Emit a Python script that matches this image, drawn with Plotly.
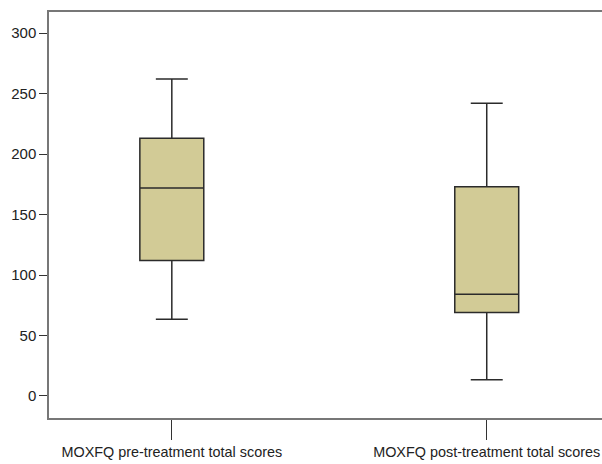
import plotly.graph_objects as go

categories = ["MOXFQ pre-treatment total scores", "MOXFQ post-treatment total scores"]
lower_whisker = [63.5, 13.5]
q1_values = [112, 69]
medians = [172, 84]
q3_values = [213, 173]
upper_whisker = [262, 242]
y_ticks = [0, 50, 100, 150, 200, 250, 300]

fig = go.Figure()
for i, cat in enumerate(categories):
    fig.add_trace(go.Box(
        x=[i], q1=[q1_values[i]], median=[medians[i]], q3=[q3_values[i]],
        lowerfence=[lower_whisker[i]], upperfence=[upper_whisker[i]],
        name=cat, width=0.203, whiskerwidth=0.5,
        fillcolor="#D2CB96", line=dict(color="#2b2b2b", width=1.5),
        boxpoints=False, showlegend=False, hoverinfo="skip",
    ))

fig.update_layout(
    width=602, height=464,
    margin=dict(l=49, r=0, t=12, b=46, autoexpand=False),
    paper_bgcolor="white", plot_bgcolor="white",
    font=dict(family="Liberation Sans, Arial, sans-serif", size=15, color="#222"),
    xaxis=dict(
        range=[-0.39, 1.366], tickvals=[0, 1], ticktext=categories,
        showgrid=False, zeroline=False, showline=True, mirror=True,
        linecolor="#777", linewidth=1.5, automargin=False,
        ticklabeloverflow="allow",
        ticks="outside", ticklen=20, tickcolor="#333", tickwidth=1,
        tickfont=dict(size=14.4, color="#222"),
    ),
    yaxis=dict(
        range=[-18.2, 317.4], tickvals=y_ticks,
        showgrid=False, zeroline=False, showline=True,
        linecolor="#777", linewidth=1.5, automargin=False,
        ticks="outside", ticklen=8, tickcolor="#333", tickwidth=1,
        tickfont=dict(size=15, color="#222"),
    ),
)

fig.write_html("out.html", config={"displayModeBar": False},
               post_script="document.body.style.margin='0';")
